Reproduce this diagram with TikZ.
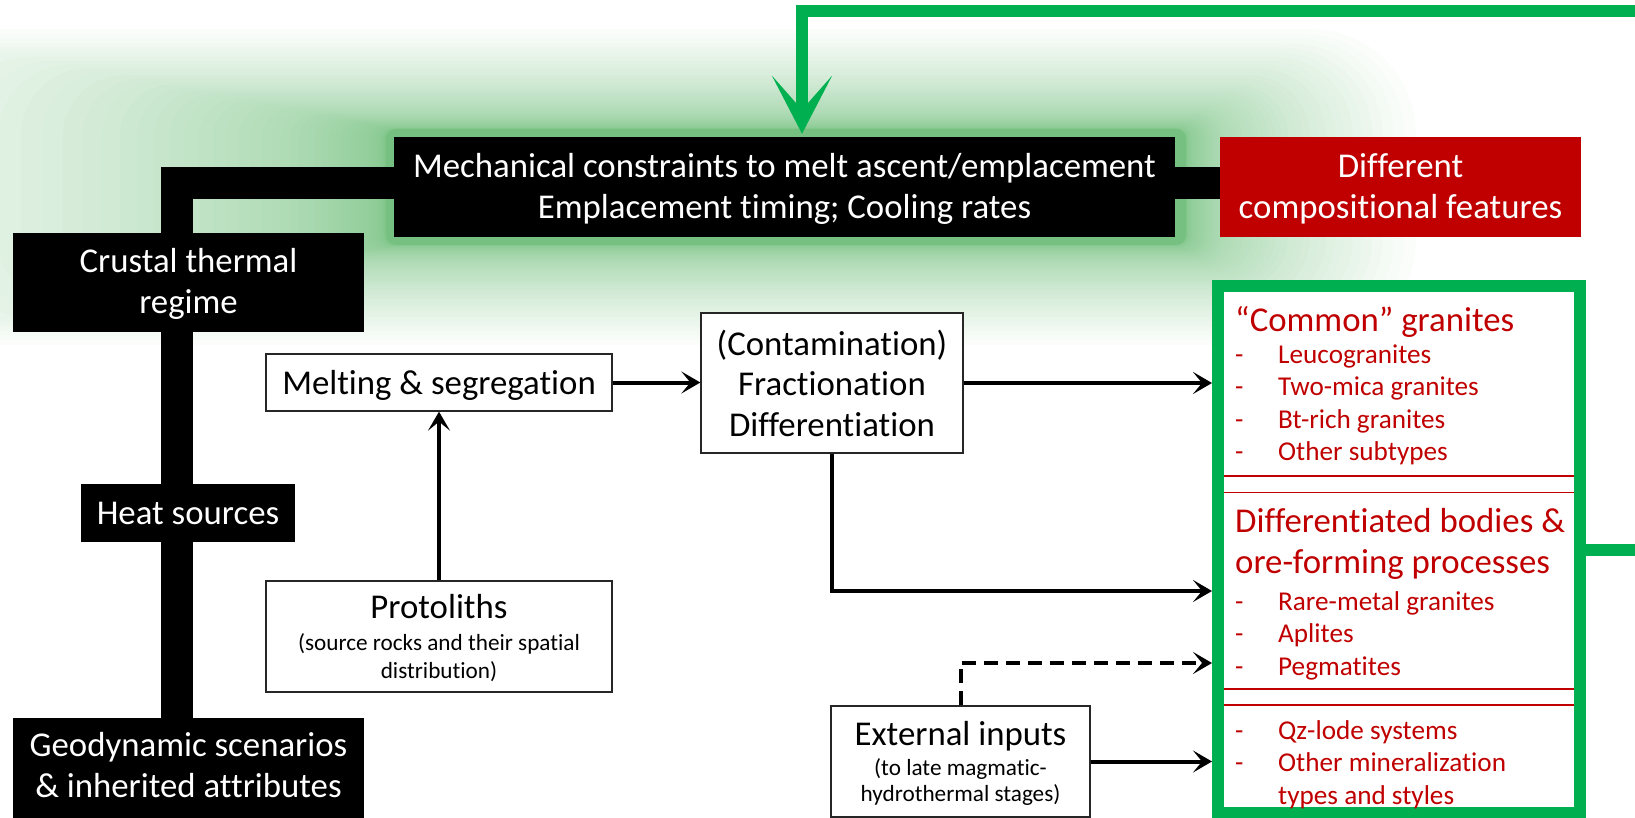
\documentclass[tikz,border=0pt]{standalone}
\usepackage{fontspec}
\setmainfont{Carlito}[Ligatures={TeX,NoCommon}]
\usetikzlibrary{arrows.meta}

\definecolor{pptgreen}{RGB}{0,176,80}
\definecolor{pptred}{RGB}{192,0,0}
\definecolor{glowc}{RGB}{60,167,75}

\newcommand{\bigtxt}{\fontsize{34.8}{40.5}\selectfont}
\newcommand{\protofont}{\fontsize{23.2}{28}\selectfont}
\newcommand{\extfont}{\fontsize{23.2}{26.7}\selectfont}
\newcommand{\listtxt}{\fontsize{27.2}{32.3}\selectfont}
\newcommand{\dashitem}{\makebox[43pt][l]{-}}

\begin{document}
\begin{tikzpicture}[x=1pt,y=-1pt,
  % text height sets the last baseline: it lies (text height)/2 below the box centre
  darkbox/.style={fill=black, text=white, inner sep=0pt, align=center, font=\bigtxt, text depth=0pt},
  redbox/.style={fill=pptred, text=white, inner sep=0pt, align=center, font=\bigtxt, text depth=0pt},
  plainbox/.style={draw=black!85, line width=1.3pt, fill=white, inner sep=0pt, align=center, font=\bigtxt, text depth=0pt},
  thickbar/.style={line width=32pt, black},
  flow/.style={line width=4pt, -{Stealth[length=19pt,width=22pt,inset=9pt]}},
  dashflow/.style={flow, dash pattern=on 14pt off 8pt},
  feedback/.style={line width=12pt, pptgreen, -{Stealth[length=58pt,width=60pt,inset=34pt]}},
  sepline/.style={pptred, line width=1.3pt},
  headtxt/.style={anchor=base west, inner sep=0pt, align=left, text=pptred, font=\bigtxt},
  listblock/.style={anchor=base west, inner sep=0pt, align=left, text=pptred, font=\listtxt}
]
\useasboundingbox (0,0) rectangle (1635,818);
\clip (0,0) rectangle (1635,818);

% soft green glow behind the upper row
\foreach \i in {0,...,59}{
  \pgfmathsetmacro{\s}{(1-\i/59)^3}
  \pgfmathsetmacro{\rad}{10+95*\s}
  \fill[glowc, opacity=0.0214, rounded corners=\rad pt]
    ({386-600*\s},{129-100*\s}) rectangle ({1186+230*\s},{245+100*\s});
}

% boxes of the left column and the upper row
\node[darkbox, minimum width=781pt, minimum height=100pt, text height=62.6pt] (mech) at (784.5,187)
  {Mechanical constraints to melt ascent/emplacement\\Emplacement timing; Cooling rates};
\node[redbox, minimum width=361pt, minimum height=100pt, text height=62.6pt] (diff) at (1400.5,187)
  {Different\\compositional features};
\node[darkbox, minimum width=351pt, minimum height=99pt, text height=61.6pt] (crust) at (188.5,282.5)
  {Crustal thermal\\regime};
\node[darkbox, minimum width=214pt, minimum height=58pt, text height=22pt] (heat) at (188,513)
  {Heat sources};
\node[darkbox, minimum width=351pt, minimum height=100pt, text height=58.4pt] (geo) at (188.5,768)
  {Geodynamic scenarios\\\& inherited attributes};

% thick black links
\coordinate (elbow) at (177,183);
\draw[thickbar] (mech.west |- elbow) -- (elbow) -- (elbow |- crust.north);
\draw[thickbar] (mech.east |- elbow) -- (diff.west |- elbow);
\draw[thickbar] (crust.south -| elbow) -- (heat.north -| elbow);
\draw[thickbar] (heat.south -| elbow) -- (geo.north -| elbow);

% process boxes
\node[plainbox, minimum width=346pt, minimum height=57pt, text height=23pt] (melt) at (439,382.5)
  {Melting \& segregation};
\node[plainbox, minimum width=346pt, minimum height=111pt, font=\protofont, text height=83pt] (proto) at (439,636.5)
  {{\bigtxt Protoliths}\\[4pt](source rocks and their spatial\\distribution)};
\node[plainbox, minimum width=262pt, minimum height=140pt, text height=106pt] (contam) at (832,383)
  {(Contamination)\\Fractionation\\Differentiation};
\node[plainbox, minimum width=259pt, minimum height=111pt, font=\extfont, text height=80.4pt] (ext) at (960.5,761.5)
  {{\bigtxt External inputs}\\[3.3pt](to late magmatic-\\hydrothermal stages)};

% outcome box (multi-line texts are anchored at their last baseline)
\node[draw=pptgreen, line width=12pt, fill=white, minimum width=362pt, minimum height=527pt, inner sep=0pt] (green) at (1399,549.5) {};
\node[headtxt] (h1) at (1235,331) {“Common” granites};
\node[listblock] (l1) at (1235,460.5)
  {\dashitem Leucogranites\\\dashitem Two-mica granites\\\dashitem Bt-rich granites\\\dashitem Other subtypes};
\draw[sepline] (1224,476) -- (1574,476);
\draw[sepline] (1224,492.5) -- (1574,492.5);
\node[headtxt] (h2) at (1235,573) {Differentiated bodies \&\\ore-forming processes};
\node[listblock] (l2) at (1235,675)
  {\dashitem Rare-metal granites\\\dashitem Aplites\\\dashitem Pegmatites};
\draw[sepline] (1224,689) -- (1574,689);
\draw[sepline] (1224,705) -- (1574,705);
\node[listblock] (l3) at (1235,804)
  {\dashitem Qz-lode systems\\\dashitem Other mineralization\\\makebox[43pt]{}types and styles};

% process arrows
\draw[flow] (proto.north) -- (melt.south);
\draw[flow] (melt.east) -- (melt.east -| contam.west);
\draw[flow] (contam.east) -- (contam.east -| green.west);
\draw[flow] (contam.south) |- (green.west |- 0,591);
\draw[dashflow] (ext.north) |- (green.west |- 0,663);
\draw[flow] (ext.east) -- (ext.east -| green.west);

% feedback loop
\coordinate (fbend) at (802,11);
\draw[feedback, shorten >=3pt] (green.east) -- ++(80,0) |- (fbend) -- (fbend |- mech.north);
\end{tikzpicture}
\end{document}
